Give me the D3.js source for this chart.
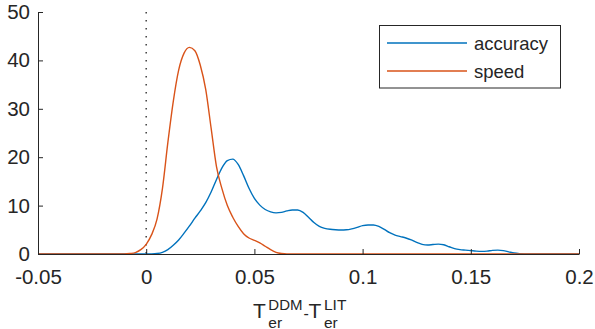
<!DOCTYPE html>
<html>
<head>
<meta charset="utf-8">
<script src="https://cdn.jsdelivr.net/npm/d3@7"></script>
<style>
  body { margin: 0; background: #fff; }
  svg { display: block; font-family: 'Liberation Sans', Arial, Helvetica, sans-serif; }
</style>
</head>
<body>
<svg id="chart" width="595" height="329"></svg>
<script>
// kernel density estimates
const xGrid = d3.range(0, 101).map(i => -0.05 + i * 0.0025)

const speedDensity = [
  0, 0, 0, 0, 0, 0, 0, 0, 0, 0, 0, 0, 0, 0, 0, 0, // -0.05 .. -0.0125
  0, 0.1, 0.3, 0.9, 2.0, 4.0, 7.2, 13.5, 23, 31.5, 38, 41.5, 42.7, 42, 39, 34,
  26, 18, 13.5, 10, 7.6, 5.7, 4.2, 3.3, 2.8, 2.3, 1.6, 0.9, 0.35, 0.1, 0, 0,
  0, 0, 0, 0, 0, 0, 0, 0, 0, 0, 0, 0, 0, 0, 0, 0,
  0, 0, 0, 0, 0, 0, 0, 0, 0, 0, 0, 0, 0, 0, 0, 0,
  0, 0, 0, 0, 0, 0, 0, 0, 0, 0, 0, 0, 0, 0, 0, 0,
  0, 0, 0, 0, 0
]

const accuracyDensity = [
  0, 0, 0, 0, 0, 0, 0, 0, 0, 0, 0, 0, 0, 0, 0, 0, // -0.05 .. -0.0125
  0, 0, 0, 0, 0, 0.02, 0.1, 0.35, 0.9, 1.8, 2.9, 4.3, 5.8, 7.4, 8.9, 10.6,
  12.8, 15.4, 17.8, 19.3, 19.6, 18.5, 16.2, 13.6, 11.5, 10.1, 9.2, 8.7, 8.5, 8.6, 8.9, 9.1,
  9.1, 8.6, 7.6, 6.5, 5.7, 5.3, 5.1, 5.0, 4.95, 5.0, 5.2, 5.5, 5.85, 6.0, 6.0, 5.7,
  5.1, 4.4, 3.9, 3.6, 3.3, 2.9, 2.4, 2.0, 1.85, 1.95, 2.05, 1.9, 1.5, 1.1, 0.9, 0.8,
  0.7, 0.6, 0.55, 0.6, 0.75, 0.8, 0.7, 0.45, 0.2, 0.07, 0.02, 0, 0, 0, 0, 0,
  0, 0, 0, 0, 0
]

const xTicks = [-0.05, 0, 0.05, 0.1, 0.15, 0.2]
const xTickLabels = ['-0.05', '0', '0.05', '0.1', '0.15', '0.2']
const yTicks = [0, 10, 20, 30, 40, 50]
const seriesNames = ['accuracy', 'speed']
const seriesColors = ['#0072BD', '#D95319']

const svg = d3.select('#chart')
const ink = '#262626'

const x = d3.scaleLinear().domain([-0.05, 0.2]).range([38, 579])
const y = d3.scaleLinear().domain([0, 50]).range([254, 12])

// dotted line at zero
svg.append('line')
  .attr('x1', x(0)).attr('x2', x(0))
  .attr('y1', y(50)).attr('y2', y(0))
  .attr('stroke', '#404040')
  .attr('stroke-width', 1.5)
  .attr('stroke-dasharray', '1.5,6.5')

const line = d3.line()
  .x((d, i) => x(xGrid[i]))
  .y(d => y(d))
  .curve(d3.curveMonotoneX)

const series = [accuracyDensity, speedDensity]
series.forEach((s, k) => {
  svg.append('path')
    .datum(s)
    .attr('d', line)
    .attr('fill', 'none')
    .attr('stroke', seriesColors[k])
    .attr('stroke-width', 1.4)
})

// axes, ticks pointing inward
const xAxis = svg.append('g')
  .attr('transform', `translate(0,${y(0)})`)
  .call(d3.axisBottom(x).tickValues(xTicks)
    .tickFormat((d, i) => xTickLabels[i])
    .tickSizeInner(-5).tickSizeOuter(0).tickPadding(15))
const yAxis = svg.append('g')
  .attr('transform', `translate(${x(-0.05)},0)`)
  .call(d3.axisLeft(y).tickValues(yTicks)
    .tickSizeInner(-5).tickSizeOuter(0).tickPadding(8))

;[xAxis, yAxis].forEach(g => {
  g.select('.domain').attr('stroke', ink).attr('stroke-width', 1)
  g.selectAll('.tick line').attr('stroke', ink).attr('stroke-width', 1)
  g.selectAll('.tick text')
    .attr('fill', ink)
    .style('font-size', '20.5px')
    .style('font-family', "'Liberation Sans', Arial, sans-serif")
})

// legend
const legend = svg.append('g')
legend.append('rect')
  .attr('x', 379.5).attr('y', 25.5)
  .attr('width', 181).attr('height', 62.5)
  .attr('fill', '#fff')
  .attr('stroke', ink)
  .attr('stroke-width', 1)
seriesNames.forEach((name, k) => {
  const ly = 43 + k * 28
  legend.append('line')
    .attr('x1', 387).attr('x2', 467)
    .attr('y1', ly).attr('y2', ly)
    .attr('stroke', seriesColors[k])
    .attr('stroke-width', 1.4)
  legend.append('text')
    .attr('x', 474).attr('y', ly + 7)
    .attr('fill', ink)
    .style('font-size', '18.5px')
    .text(name)
})

// x axis label: T_er^DDM - T_er^LIT
const labelParts = [
  { t: 'T', x: 253, y: 318, size: 21 },
  { t: 'DDM', x: 268.3, y: 309.5, size: 15 },
  { t: 'er', x: 268.3, y: 327.5, size: 15.5 },
  { t: '-', x: 303.5, y: 318.5, size: 16 },
  { t: 'T', x: 308.5, y: 318, size: 21 },
  { t: 'LIT', x: 324, y: 309.5, size: 15.5 },
  { t: 'er', x: 324, y: 327.5, size: 15.5 }
]
svg.append('g').selectAll('text')
  .data(labelParts)
  .join('text')
  .attr('x', d => d.x)
  .attr('y', d => d.y)
  .attr('fill', ink)
  .style('font-size', d => `${d.size}px`)
  .text(d => d.t)
</script>
</body>
</html>
